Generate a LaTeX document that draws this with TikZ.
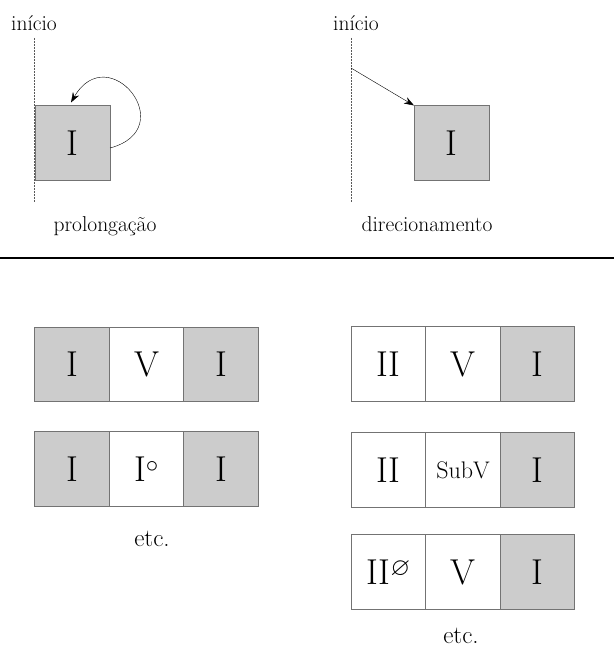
\documentclass[tikz,border=0pt]{standalone}
\usepackage{amsmath}
\usepackage{amssymb}
\usepackage{tikz}
\usetikzlibrary{positioning,arrows.meta}

\begin{document}
\begin{tikzpicture}[x=1pt,y=-1pt,
    grau/.style={rectangle,draw=black!55,line width=.9pt,minimum size=74.5pt,inner sep=0pt,outer sep=0pt,font=\fontsize{36}{40}\selectfont},
    tonica/.style={grau,fill=black!20},
    rotulo/.style={anchor=base,inner sep=0pt,font=\fontsize{21.5}{26}\selectfont},
    inicio/.style={black!65,line width=.9pt,dash pattern=on 1.6pt off 1.4pt}]
    \useasboundingbox (0,0) rectangle (614,647);

    \node[rotulo] (ini1) at (34,31) {início};
    \node[rotulo] (ini2) at (356,31) {início};
    \coordinate (l1a) at (34,38);
    \coordinate (l1b) at (34,202);
    \coordinate (l2a) at (351,38);
    \coordinate (l2b) at (351,202);
    \coordinate (s2) at (351,68);
    \node[tonica,minimum size=75pt] (prol) at (72.5,143) {I};
    \node[tonica,minimum size=75pt] (dir) at (451.5,143) {I};
    \node[rotulo] (tprol) at (105,231) {prolongação};
    \node[rotulo] (tdir) at (427,231) {direcionamento};

    \draw[inicio] (l1a) -- (l1b);
    \draw[inicio] (l2a) -- (l2b);
    \draw[-{Stealth[length=10pt,width=7pt]}] ([yshift=-5pt]prol.east) to[out=15,in=60,looseness=3.2] ([xshift=-1.5pt,yshift=3pt]prol.north);
    \draw[-{Stealth[length=10pt,width=7pt]}] (s2) -- (dir.north west);

    \coordinate (ra) at (0,258);
    \coordinate (rb) at (614,258);
    \draw[line width=1.5pt] (ra) -- (rb);

    \node[tonica] (a1) at (72,364.5) {I};
    \node[grau,right=0pt of a1] (a2) {V};
    \node[tonica,right=0pt of a2] (a3) {I};
    \node[tonica] (b1) at (72,469) {I};
    \node[grau,right=0pt of b1] (b2) {I$^{\circ}$};
    \node[tonica,right=0pt of b2] (b3) {I};
    \node[rotulo,font=\fontsize{25}{30}\selectfont] (etc1) at (152,546) {etc.};

    \node[grau] (c1) at (388.5,364) {II};
    \node[grau,right=0pt of c1] (c2) {V};
    \node[tonica,right=0pt of c2] (c3) {I};
    \node[grau] (d1) at (388.5,470) {II};
    \node[grau,right=0pt of d1,font=\fontsize{24}{28}\selectfont] (d2) {SubV};
    \node[tonica,right=0pt of d2] (d3) {I};
    \node[grau] (e1) at (388.5,572) {II$^{\varnothing}$};
    \node[grau,right=0pt of e1] (e2) {V};
    \node[tonica,right=0pt of e2] (e3) {I};
    \node[rotulo,font=\fontsize{25}{30}\selectfont] (etc2) at (461,643) {etc.};

\end{tikzpicture}
\end{document}
